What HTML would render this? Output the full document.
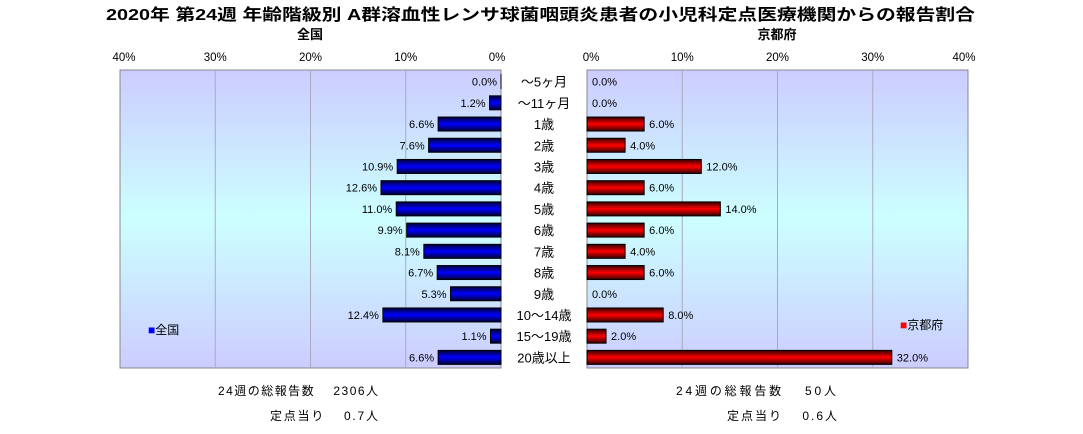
<!DOCTYPE html>
<html><head><meta charset="utf-8"><style>
body{margin:0;background:#fff;font-family:"Liberation Sans","Noto Sans CJK JP",sans-serif;}
svg text{font-family:"Liberation Sans","Noto Sans CJK JP",sans-serif;}
</style></head><body>
<svg id="c" width="1083" height="429" xmlns="http://www.w3.org/2000/svg">
<defs>
<linearGradient id="bg" x1="0" y1="0" x2="0" y2="1">
<stop offset="0" stop-color="#ccccff"/><stop offset="0.5" stop-color="#ccffff"/><stop offset="1" stop-color="#ccccff"/>
</linearGradient>
<linearGradient id="gb" x1="0" y1="0" x2="0" y2="1">
<stop offset="0" stop-color="#000033"/><stop offset="0.5" stop-color="#0000ff"/><stop offset="1" stop-color="#000033"/>
</linearGradient>
<linearGradient id="gr" x1="0" y1="0" x2="0" y2="1">
<stop offset="0" stop-color="#330000"/><stop offset="0.5" stop-color="#ff0000"/><stop offset="1" stop-color="#330000"/>
</linearGradient>
</defs>
<text x="106" y="20" font-size="16" font-weight="bold" textLength="869" lengthAdjust="spacingAndGlyphs">2020年 第24週 年齢階級別 A群溶血性レンサ球菌咽頭炎患者の小児科定点医療機関からの報告割合</text>
<text x="310" y="39" font-size="13" font-weight="bold" text-anchor="middle">全国</text>
<text x="777" y="39" font-size="13" font-weight="bold" text-anchor="middle">京都府</text>
<rect x="120" y="70" width="381" height="298" fill="url(#bg)" stroke="#888"/>
<rect x="587" y="70" width="381" height="298" fill="url(#bg)" stroke="#888"/>
<g id="g"></g>
<text x="148" y="334" font-size="12"><tspan fill="#0000ff">■</tspan>全国</text>
<text x="900" y="329" font-size="12"><tspan fill="#ff0000">■</tspan>京都府</text>
<text x="218" y="395" font-size="12" textLength="160" lengthAdjust="spacing">24週の総報告数　 2306人</text>
<text x="270" y="420" font-size="12" textLength="108" lengthAdjust="spacing">定点当り　 0.7人</text>
<text x="676" y="395" font-size="12" textLength="160" lengthAdjust="spacing">24週の総報告数　 50人</text>
<text x="727" y="420" font-size="12" textLength="110" lengthAdjust="spacing">定点当り　 0.6人</text>
</svg>
<script>
const categories=["～5ヶ月","～11ヶ月","1歳","2歳","3歳","4歳","5歳","6歳","7歳","8歳","9歳","10～14歳","15～19歳","20歳以上"];
const national=[0.0,1.2,6.6,7.6,10.9,12.6,11.0,9.9,8.1,6.7,5.3,12.4,1.1,6.6];
const kyoto=[0.0,0.0,6.0,4.0,12.0,6.0,14.0,6.0,4.0,6.0,0.0,8.0,2.0,32.0];
const ticks=[0,10,20,30,40];
const NS="http://www.w3.org/2000/svg";
const g=document.getElementById('g');
const L0=501,R0=587,W=381,MAX=40,TOP=71,H=297;
const xl=v=>L0-v/MAX*W, xr=v=>R0+v/MAX*W;
const rowH=H/categories.length;
const yc=i=>TOP+rowH*(i+0.5);
function mk(t,a){const e=document.createElementNS(NS,t);for(const k in a)e.setAttribute(k,a[k]);g.appendChild(e);return e;}
ticks.forEach(t=>{
 if(t>0&&t<MAX){
  let l=mk('line',{x1:xl(t),x2:xl(t),y1:70,y2:368,stroke:'#aab'});
  
  
  let r=mk('line',{x1:xr(t),x2:xr(t),y1:70,y2:368,stroke:'#aab'});
  
  
 }
 let a=mk('text',{x:xl(t)+(t==0?-4:(t==MAX?4:0)),y:61,'font-size':11.5,'text-anchor':'middle'});a.textContent=t+'%';
 
 
 let b=mk('text',{x:xr(t)+(t==0?4:(t==MAX?-4:0)),y:61,'font-size':11.5,'text-anchor':'middle'});b.textContent=t+'%';
 
 
});
const bh=14;
categories.forEach((c,i)=>{
 const y=yc(i);
 let lab=mk('text',{x:544,y:y+5,'font-size':13,'text-anchor':'middle'});lab.textContent=c;
 
 
 const v=national[i];
 let bl=mk('rect',{x:xl(v),y:y-bh/2,width:Math.max(v/MAX*W,0.01),height:bh,fill:'url(#gb)',stroke:'#000'});
 
 
 let tl=mk('text',{x:xl(v)-4,y:y+4,'font-size':11,'text-anchor':'end'});tl.textContent=v.toFixed(1)+'%';
 
 
 const k=kyoto[i];
 if(k>0){
  let br=mk('rect',{x:R0,y:y-bh/2,width:k/MAX*W,height:bh,fill:'url(#gr)',stroke:'#000'});
  
  
 }
 let tr=mk('text',{x:xr(k)+5,y:y+4,'font-size':11});tr.textContent=k.toFixed(1)+'%';
 
 
});
</script>
</body></html>
